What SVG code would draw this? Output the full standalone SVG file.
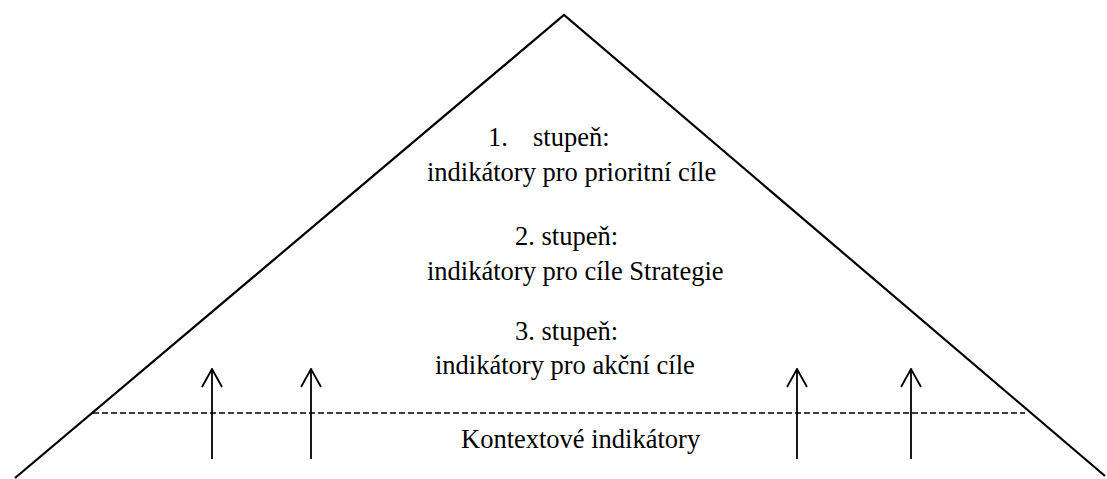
<svg xmlns="http://www.w3.org/2000/svg" width="1107" height="479" viewBox="0 0 1107 479">
<defs>
<style>
.t{font-family:'Liberation Serif','Times New Roman',Times,serif;font-size:26.5px;fill:#000}
.ln{stroke:#000;stroke-width:2.2;fill:none}
.ar{stroke:#000;stroke-width:1.8;fill:none}
.dash{stroke:#000;stroke-width:1.4;stroke-dasharray:6,3;fill:none}
</style>
<marker id="ah" viewBox="0 0 20 22" refX="19" refY="11" markerWidth="20" markerHeight="22" markerUnits="userSpaceOnUse" orient="auto">
<path d="M1,1 L19,11 L1,21" stroke="#000" stroke-width="1.8" fill="none"/>
</marker>
</defs>
<rect width="1107" height="479" fill="#fff"/>
<g id="pyramid">
<polyline class="ln" points="15,478 564,15 1105,476"/>
</g>
<g id="context-line">
<line class="dash" x1="93" y1="413" x2="1025" y2="413"/>
</g>
<g id="level1">
<text class="t" x="488" y="146">1.</text>
<text class="t" x="533" y="146">stupeň:</text>
<text class="t" x="427" y="181">indikátory pro prioritní cíle</text>
</g>
<g id="level2">
<text class="t" x="515" y="245">2. stupeň:</text>
<text class="t" x="427" y="280">indikátory pro cíle Strategie</text>
</g>
<g id="level3">
<text class="t" x="515" y="340">3. stupeň:</text>
<text class="t" x="435" y="374">indikátory pro akční cíle</text>
</g>
<g id="context">
<text class="t" x="461" y="448">Kontextové indikátory</text>
</g>
<g id="connectors">
<line class="ar" x1="212" y1="459" x2="212" y2="369" marker-end="url(#ah)"/>
<line class="ar" x1="311" y1="459" x2="311" y2="369" marker-end="url(#ah)"/>
<line class="ar" x1="797" y1="459" x2="797" y2="369" marker-end="url(#ah)"/>
<line class="ar" x1="911" y1="459" x2="911" y2="369" marker-end="url(#ah)"/>
</g>
</svg>
